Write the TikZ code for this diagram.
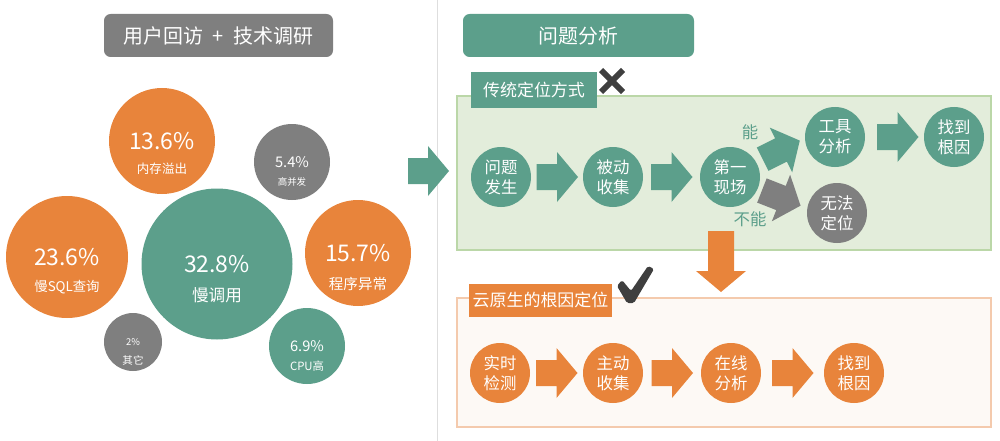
\documentclass[tikz,border=0pt]{standalone}
\usepackage{fontspec}
\setmainfont{Noto Sans CJK SC}
\usepackage{tikz}
\usetikzlibrary{calc}
\definecolor{RCgreen}{HTML}{5C9F8B}
\definecolor{RCorange}{HTML}{E8843B}
\definecolor{RCgray}{HTML}{7F7F7F}
\definecolor{RCdark}{HTML}{3F3F3F}
\definecolor{RCrule}{HTML}{DEDEDE}
\definecolor{RCmint}{HTML}{E3EDDB}
\definecolor{RCmintline}{HTML}{BBD7A8}
\definecolor{RCcream}{HTML}{FDF9F5}
\definecolor{RCcreamline}{HTML}{F4CAAD}
\newcommand{\pxu}{0.3mm}
% block arrow: [tail]{position}{angle}{colour}
\newcommand{\blockarrow}[4][20.5]{%
  \fill[#4,shift={(#2)},rotate=#3]
    (-#1,-13) -- (0,-13) -- (0,-25) -- (21,0) -- (0,25) -- (0,13) -- (-#1,13) -- cycle;}
\newcommand{\wrongmark}[2]{%
  \draw[RCdark,line width=1.8mm,shift={(#1,#2)}] (-11,-11) -- (11,11) (-11,11) -- (11,-11);}
\newcommand{\okmark}[2]{%
  \fill[RCdark,rounded corners=0.5mm,shift={(#1,#2)}]
    (-18,1) -- (-13,-5) -- (-4,6) -- (13,-19) -- (19,-16) -- (-1,18) -- (-8,18) -- cycle;}

\begin{document}
\begin{tikzpicture}[
  x=0.3mm,y=-0.3mm,
  bubble/.style={circle,inner sep=0pt,minimum size=#1},
  pct/.style={text=white,inner sep=0pt},
  banner/.style={rounded corners=2mm,inner sep=0pt,text=white,
    font=\fontsize{17}{20}\selectfont},
  tag/.style={inner sep=0pt,text=white,font=\fontsize{14.5}{17}\selectfont},
  panel/.style={inner sep=0pt,line width=0.45mm},
  flowdot/.style={circle,fill=RCgreen,inner sep=0pt,minimum size=60*\pxu,
    text=white,align=center,font=\fontsize{14}{17}\selectfont},
  yesno/.style={text=RCgreen,inner sep=0pt,font=\fontsize{14}{17}\selectfont}
]
\useasboundingbox (0,0) rectangle (1000,441);

% left: survey results
\node[banner,fill=RCgray,minimum width=229*\pxu,minimum height=43*\pxu] (survey) at (218.5,35.5)
  {用户回访\hspace{0.5em}+\hspace{0.5em}技术调研};

\node[bubble=106*\pxu,fill=RCorange] (memory) at (162,141) {};
\node[bubble=76*\pxu,fill=RCgray] (highcon) at (292,162) {};
\node[bubble=122*\pxu,fill=RCorange] (slowsql) at (67,257) {};
\node[bubble=151*\pxu,fill=RCgreen] (slowcall) at (217,264) {};
\node[bubble=106*\pxu,fill=RCorange] (exception) at (358,253) {};
\node[bubble=58*\pxu,fill=RCgray] (other) at (133,342) {};
\node[bubble=76*\pxu,fill=RCgreen] (cpu) at (307,346) {};

\foreach \b/\num/\ns/\txt/\ts/\dy in {memory/13.6/19.6/内存溢出/10.7/28,
    highcon/5.4/12.5/高并发/8.1/20, slowsql/23.6/19.6/慢SQL查询/11.4/30,
    slowcall/32.8/19.6/慢调用/14.2/31, exception/15.7/19.6/程序异常/12.4/31,
    other/2/8/其它/9/18, cpu/6.9/12.5/CPU高/9.7/20}{
  \node[pct,font=\fontsize{\ns}{\ns}\selectfont] (\b-num) at (\b) {\num\%};
  \node[pct,font=\fontsize{\ts}{\ts}\selectfont] (\b-txt) at ($(\b)+(0,\dy)$) {\txt};
}

\draw[RCrule,line width=0.3mm] (437,0) -- (437,441);
\blockarrow[20]{428,171}{0}{RCgreen}

% right: analysis
\node[banner,fill=RCgreen,minimum width=231*\pxu,minimum height=43*\pxu] (analysis) at (578.5,35.5)
  {问题分析};

\node[panel,fill=RCmint,draw=RCmintline,minimum width=534*\pxu,minimum height=154*\pxu]
  (oldpanel) at (724,173) {};
\node[tag,fill=RCgreen,minimum width=126*\pxu,minimum height=36*\pxu] (oldway) at (534,90)
  {传统定位方式};
\wrongmark{612}{81}

\node[flowdot] (happen) at (501,177) {问题\\发生};
\node[flowdot] (collect) at (613,177) {被动\\收集};
\node[flowdot] (scene) at (730,177) {第一\\现场};
\node[flowdot] (tool) at (835,137) {工具\\分析};
\node[flowdot] (rootA) at (954,137) {找到\\根因};
\node[flowdot,fill=RCgray] (fail) at (837,213) {无法\\定位};
\blockarrow{$(happen)!0.5!(collect)$}{0}{RCgreen}
\blockarrow{$(collect)!0.5!(scene)$}{0}{RCgreen}
\blockarrow{$(tool)!0.5!(rootA)+(3,0)$}{0}{RCgreen}
\blockarrow{781,150}{26.6}{RCgreen}
\blockarrow{781,198}{-21.4}{RCgray}
\node[yesno] (can) at (750,132) {能};
\node[yesno] (cannot) at (750,219) {不能};

\blockarrow[40]{721,271}{-90}{RCorange}

\node[panel,fill=RCcream,draw=RCcreamline,minimum width=534*\pxu,minimum height=129*\pxu]
  (newpanel) at (724,362.5) {};
\node[tag,fill=RCorange,minimum width=143*\pxu,minimum height=33*\pxu] (newway) at (540.5,300.5)
  {云原生的根因定位};
\okmark{635}{285}

\node[flowdot,fill=RCorange] (realtime) at (500,373) {实时\\检测};
\node[flowdot,fill=RCorange] (active) at (613,373) {主动\\收集};
\node[flowdot,fill=RCorange] (online) at (731,373) {在线\\分析};
\node[flowdot,fill=RCorange] (rootB) at (854,373) {找到\\根因};
\blockarrow{$(realtime)!0.5!(active)$}{0}{RCorange}
\blockarrow{$(active)!0.5!(online)$}{0}{RCorange}
\blockarrow{$(online)!0.5!(rootB)$}{0}{RCorange}

\end{tikzpicture}
\end{document}
